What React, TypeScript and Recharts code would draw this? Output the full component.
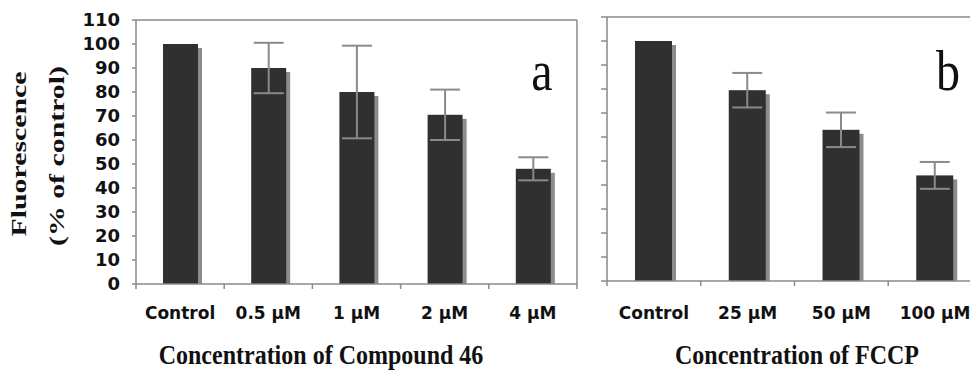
import { BarChart, Bar, XAxis, YAxis, ErrorBar, ReferenceLine } from 'recharts'

const catsA = ['Control', '0.5 µM', '1 µM', '2 µM', '4 µM']
const valsA = [100, 90, 80, 70.5, 48]
const errA = [0, 10.5, 19.3, 10.5, 4.8]

const catsB = ['Control', '25 µM', '50 µM', '100 µM']
const valsB = [100, 79.5, 63, 44]
const errB = [0, 7.2, 7.2, 5.6]

const yTicks = [0, 10, 20, 30, 40, 50, 60, 70, 80, 90, 100, 110]

const dataA = catsA.map((c, i) => ({ cat: c, value: valsA[i], err: errA[i] }))
const dataB = catsB.map((c, i) => ({ cat: c, value: valsB[i], err: errB[i] }))

const AXIS = '#8a8a8a'
const sans = '"DejaVu Sans", Verdana, sans-serif'
const serif = '"Liberation Serif", "Times New Roman", serif'

function ShadowBar(props: any) {
  const { x, y, width, height } = props
  if (!height) return null
  return (
    <g>
      <rect x={x + 4} y={y + 4} width={width} height={Math.max(height - 4, 0)} fill="#8c8c8c" />
      <rect x={x} y={y} width={width} height={height} fill="#303030" />
    </g>
  )
}

// category labels plus tick marks at the band edges (and the right frame for panel a)
function makeXTick(half: number, count: number, margin: number, frame: number) {
  return (p: any) => {
    const { x, y, payload, index } = p
    const y0 = y - margin
    return (
      <g>
        <line x1={x - half} x2={x - half} y1={y0} y2={y0 + 5} stroke={AXIS} strokeWidth={1.5} />
        {index === count - 1 && (
          <line x1={x + half} x2={x + half} y1={y0 - frame} y2={y0 + 5} stroke={AXIS} strokeWidth={1.5} />
        )}
        <text
          x={x}
          y={y}
          dy="0.71em"
          textAnchor="middle"
          fontFamily={sans}
          fontWeight="bold"
          fontSize={17}
          fill="#111"
        >
          {payload.value}
        </text>
      </g>
    )
  }
}

const emptyTick = () => <g />

const titleStyle: React.CSSProperties = {
  position: 'absolute',
  fontFamily: serif,
  fontWeight: 'bold',
  whiteSpace: 'nowrap',
  color: '#111',
  lineHeight: 1,
}

export default function App() {
  return (
    <div
      style={{
        position: 'absolute',
        left: 0,
        top: 0,
        width: 970,
        height: 371,
        overflow: 'hidden',
        background: '#fff',
      }}
    >
      <div style={{ position: 'absolute', left: 0, top: 0 }}>
        <BarChart
          width={587}
          height={330}
          data={dataA}
          margin={{ top: 20, right: 10, left: 76, bottom: 0 }}
        >
          <XAxis
            dataKey="cat"
            interval={0}
            height={46}
            axisLine={{ stroke: AXIS, strokeWidth: 1.5 }}
            tickLine={false}
            tickSize={0}
            tickMargin={23}
            tick={makeXTick(44.1, catsA.length, 23, 264)}
          />
          <YAxis
            domain={[0, 110]}
            ticks={yTicks}
            width={60}
            interval={0}
            axisLine={{ stroke: AXIS, strokeWidth: 1.5 }}
            tickLine={{ stroke: AXIS, strokeWidth: 1.5 }}
            tickSize={4}
            tickMargin={12}
            tick={{ fontFamily: sans, fontWeight: 'bold', fontSize: 18, fill: '#111' }}
          />
          <ReferenceLine y={110} stroke={AXIS} strokeWidth={1.5} />
          <Bar dataKey="value" barSize={35} shape={ShadowBar} isAnimationActive={false}>
            <ErrorBar dataKey="err" width={15} strokeWidth={2} stroke="#8a8a8a" direction="y" />
          </Bar>
        </BarChart>
      </div>

      <div style={{ position: 'absolute', left: 530, top: 0 }}>
        <BarChart
          width={452}
          height={330}
          data={dataB}
          margin={{ top: 17, right: 0, left: 17, bottom: 0 }}
        >
          <XAxis
            dataKey="cat"
            interval={0}
            height={49}
            axisLine={{ stroke: AXIS, strokeWidth: 1.5 }}
            tickLine={false}
            tickSize={0}
            tickMargin={26}
            tick={makeXTick(46.9, catsB.length, 26, 0)}
          />
          <YAxis
            domain={[0, 110]}
            ticks={yTicks}
            width={60}
            interval={0}
            axisLine={{ stroke: AXIS, strokeWidth: 1.5 }}
            tickLine={{ stroke: AXIS, strokeWidth: 1.5 }}
            tickSize={6}
            tick={emptyTick}
          />
          <ReferenceLine y={110} stroke={AXIS} strokeWidth={1.5} />
          <Bar dataKey="value" barSize={37} shape={ShadowBar} isAnimationActive={false}>
            <ErrorBar dataKey="err" width={15} strokeWidth={2} stroke="#8a8a8a" direction="y" />
          </Bar>
        </BarChart>
      </div>

      <div
        style={{
          ...titleStyle,
          fontSize: 21,
          left: 19,
          top: 154,
          transform: 'translate(-50%, -50%) rotate(-90deg) scaleX(1.42)',
        }}
      >
        Fluorescence
      </div>
      <div
        style={{
          ...titleStyle,
          fontSize: 21,
          left: 57,
          top: 156,
          transform: 'translate(-50%, -50%) rotate(-90deg) scaleX(1.42)',
        }}
      >
        (% of control)
      </div>

      <div
        style={{
          ...titleStyle,
          fontSize: 24,
          left: 321,
          top: 355,
          transform: 'translate(-50%, -50%) scaleY(1.15)',
        }}
      >
        Concentration of Compound 46
      </div>
      <div
        style={{
          ...titleStyle,
          fontSize: 24,
          left: 797,
          top: 355,
          transform: 'translate(-50%, -50%) scaleY(1.15)',
        }}
      >
        Concentration of FCCP
      </div>

      <div
        style={{
          ...titleStyle,
          fontWeight: 'normal',
          fontSize: 48,
          left: 542,
          top: 47,
          transform: 'translateX(-50%) scaleY(1.2)',
        }}
      >
        a
      </div>
      <div
        style={{
          ...titleStyle,
          fontWeight: 'normal',
          fontSize: 48,
          left: 948,
          top: 47,
          transform: 'translateX(-50%) scaleY(1.2)',
        }}
      >
        b
      </div>
    </div>
  )
}
